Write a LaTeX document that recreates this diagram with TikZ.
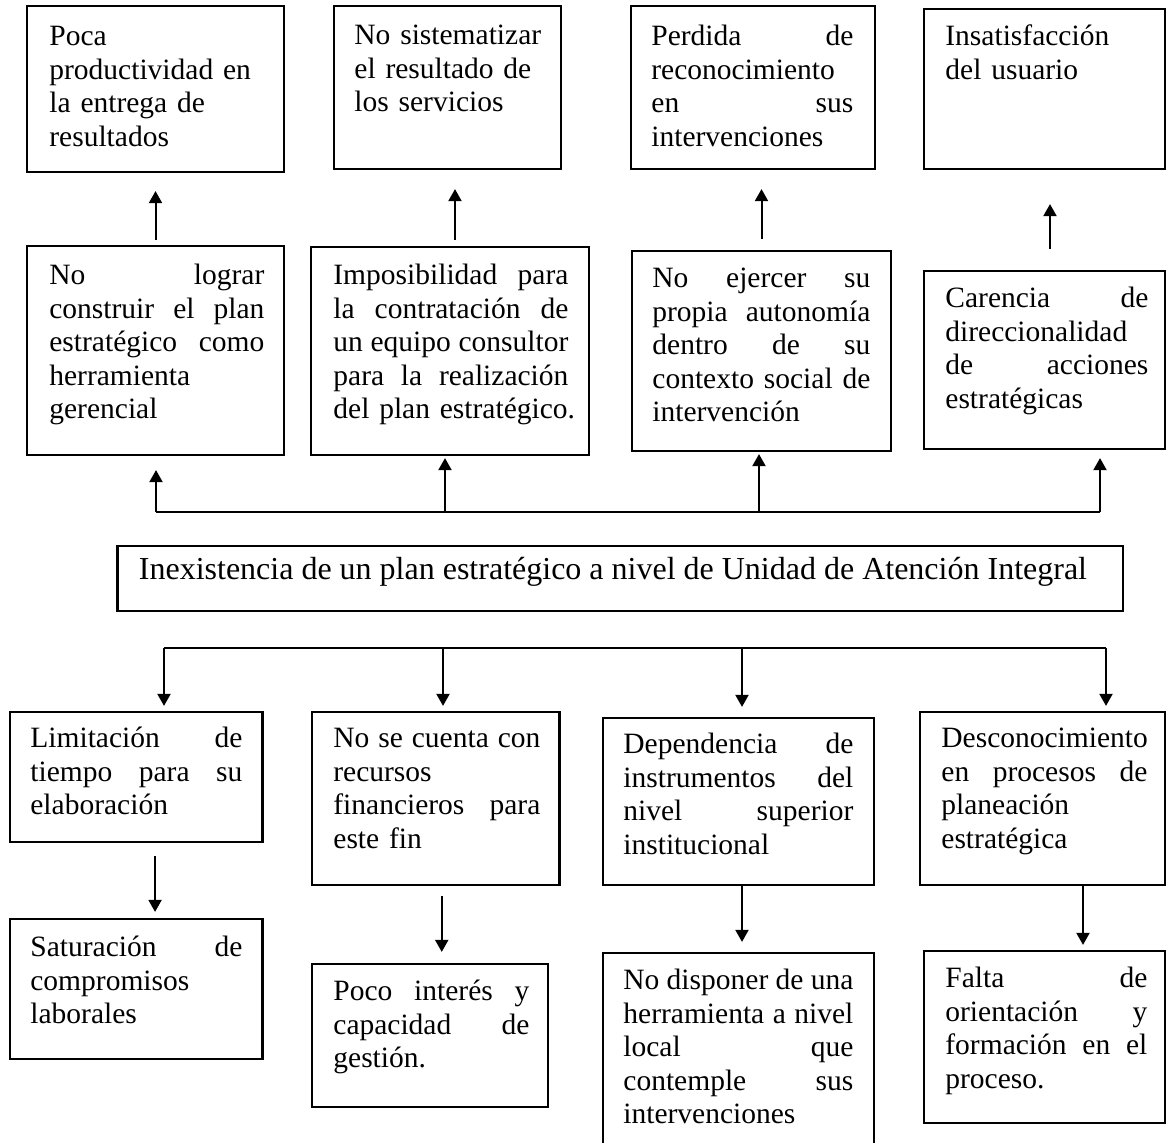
\documentclass[tikz,border=0pt]{standalone}
\usepackage{fontspec}
\setmainfont{Liberation Serif}
\usetikzlibrary{arrows.meta,fit,calc}
\newcommand\bxfont{\fontsize{14.75}{16.8}\selectfont}
\newcommand\ctfont{\fontsize{16}{19}\selectfont}
\newcommand\jl[1]{\makebox[\hsize][s]{\spaceskip=0pt\xspaceskip=0pt #1}}
\begin{document}
\begin{tikzpicture}[x=0.5pt,y=-0.5pt,
  box/.style={draw=black, line width=1.1pt, inner sep=0pt, rectangle},
  txt/.style={anchor=north west, inner sep=0pt, align=left, font=\bxfont},
  arr/.style={line width=1pt, -{Triangle[width=6.5pt,length=6pt]}},
  bus/.style={line width=1pt}]
\useasboundingbox (0,0) rectangle (1167,1143);
\clip (0,0) rectangle (1167,1143);
\fill[white] (0,0) rectangle (1167,1143);

% ---- top row (effects)
\node[box, fit={(27,6) (284,172)}] (A1) {};
\node[box, fit={(334,6) (561,169)}] (A2) {};
\node[box, fit={(631,6) (875,169)}] (A3) {};
\node[box, fit={(924,9) (1165,169)}] (A4) {};
\node[txt, text width=107.5pt] (tA1) at (49,21.5) {\strut Poca\\ \mbox{productividad en}\\ \mbox{la entrega de}\\ resultados};
\node[txt, text width=107.5pt] (tA2) at (354,20.5) {\strut\mbox{No sistematizar}\\ \mbox{el resultado de}\\ \mbox{los servicios}};
\node[txt, text width=101pt] (tA3) at (651,21.5) {\strut\jl{Perdida de}\\ reconocimiento\\ \jl{en sus}\\ intervenciones};
\node[txt, text width=101.5pt] (tA4) at (945,21.5) {\strut Insatisfacción\\ \mbox{del usuario}};

% ---- second row
\node[box, fit={(27,246) (284,455)}] (B1) {};
\node[box, fit={(311,247) (589,455)}] (B2) {};
\node[box, fit={(632,251) (891,451)}] (B3) {};
\node[box, fit={(924,271) (1165,449)}] (B4) {};
\node[txt, text width=107.5pt] (tB1) at (49,260.5) {\strut\jl{No lograr}\\ \jl{construir el plan}\\ \jl{estratégico como}\\ herramienta\\ gerencial};
\node[txt, text width=117.5pt] (tB2) at (333,260.5) {\strut\jl{Imposibilidad para}\\ \jl{la contratación de}\\ \jl{un equipo consultor}\\ \jl{para la realización}\\ \mbox{del plan estratégico.}};
\node[txt, text width=109pt] (tB3) at (652,263.5) {\strut\jl{No ejercer su}\\ \jl{propia autonomía}\\ \jl{dentro de su}\\ \jl{contexto social de}\\ intervención};
\node[txt, text width=101.5pt] (tB4) at (945,283.5) {\strut\jl{Carencia de}\\ direccionalidad\\ \jl{de acciones}\\ estratégicas};

% ---- central problem
\node[box, fit={(117.5,546) (1123,611)}] (P) {};
\node[anchor=base west, inner sep=0pt, font=\ctfont] (tP) at (138.5,580) {Inexistencia de un plan estratégico a nivel de Unidad de Atención Integral};

% ---- causes
\node[box, fit={(9.6,712) (262.5,842)}] (C1) {};
\node[box, fit={(312,712) (559.5,885)}] (C2) {};
\node[box, fit={(603,718) (874,885)}] (C3) {};
\node[box, fit={(920,712) (1165,885)}] (C4) {};
\node[txt, text width=106pt] (tC1) at (30,723.5) {\strut\jl{Limitación de}\\ \jl{tiempo para su}\\ elaboración};
\node[txt, text width=103.5pt] (tC2) at (333,723.5) {\strut\jl{No se cuenta con}\\ recursos\\ \jl{financieros para}\\ \mbox{este fin}};
\node[txt, text width=115pt] (tC3) at (623,729.5) {\strut\jl{Dependencia de}\\ \jl{instrumentos del}\\ \jl{nivel superior}\\ institucional};
\node[txt, text width=103pt] (tC4) at (941,723.5) {\strut Desconocimiento\\ \jl{en procesos de}\\ planeación\\ estratégica};

% ---- root causes
\node[box, fit={(9.6,919) (262.5,1059)}] (D1) {};
\node[box, fit={(312,964) (548,1107)}] (D2) {};
\node[box, fit={(603,953) (874,1160)}] (D3) {};
\node[box, fit={(924,951) (1165,1123)}] (D4) {};
\node[txt, text width=106pt] (tD1) at (30,932.5) {\strut\jl{Saturación de}\\ compromisos\\ laborales};
\node[txt, text width=98pt] (tD2) at (333,976.5) {\strut\jl{Poco interés y}\\ \jl{capacidad de}\\ gestión.};
\node[txt, text width=115pt] (tD3) at (623,965.5) {\strut\jl{No disponer de una}\\ \jl{herramienta a nivel}\\ \jl{local que}\\ \jl{contemple sus}\\ intervenciones};
\node[txt, text width=101pt] (tD4) at (945,963.5) {\strut\jl{Falta de}\\ \jl{orientación y}\\ \jl{formación en el}\\ proceso.};

% ---- arrows second row -> top row
\draw[arr] ($(B1.north)+(0,-5)$) -- ($(B1.north |- A1.south)+(0,18)$);
\draw[arr] ($(B2.north)+(5,-6)$) -- ($(B2.north |- A2.south)+(5,19)$);
\draw[arr] ($(B3.north)+(0,-11)$) -- ($(B3.north |- A3.south)+(0,19)$);
\draw[arr] ($(B4.north)+(5.5,-21)$) -- ($(B4.north |- A4.south)+(5.5,34)$);

% ---- upper bus
\coordinate (tb1) at (156,512);
\coordinate (tb2) at (445,512);
\coordinate (tb3) at (759,512);
\coordinate (tb4) at (1100,512);
\draw[bus] (tb1) -- (tb4);
\draw[arr, shorten >=7pt] (tb1) -- (tb1 |- B1.south);
\draw[arr, shorten >=1pt] (tb2) -- (tb2 |- B2.south);
\draw[arr, shorten >=1pt] (tb3) -- (tb3 |- B3.south);
\draw[arr, shorten >=4pt] (tb4) -- (tb4 |- B4.south);

% ---- lower bus
\coordinate (bb1) at (164,648);
\coordinate (bb2) at (443,648);
\coordinate (bb3) at (742,648);
\coordinate (bb4) at (1106,648);
\draw[bus] (bb1) -- (bb4);
\draw[arr, shorten >=2.5pt] (bb1) -- (bb1 |- C1.north);
\draw[arr, shorten >=2.5pt] (bb2) -- (bb2 |- C2.north);
\draw[arr, shorten >=5pt] (bb3) -- (bb3 |- C3.north);
\draw[arr, shorten >=2.5pt] (bb4) -- (bb4 |- C4.north);

% ---- causes -> root causes
\draw[arr] ($(C1.south)+(19,13)$) -- ($(C1.south |- D1.north)+(19,-6)$);
\draw[arr] ($(C2.south)+(6,10)$) -- ($(C2.south |- D2.north)+(6,-11)$);
\draw[arr] ($(C3.south)+(3.5,0)$) -- ($(C3.south |- D3.north)+(3.5,-10)$);
\draw[arr] ($(C4.south)+(40.5,0)$) -- ($(C4.south |- D4.north)+(40.5,-5)$);
\end{tikzpicture}
\end{document}
